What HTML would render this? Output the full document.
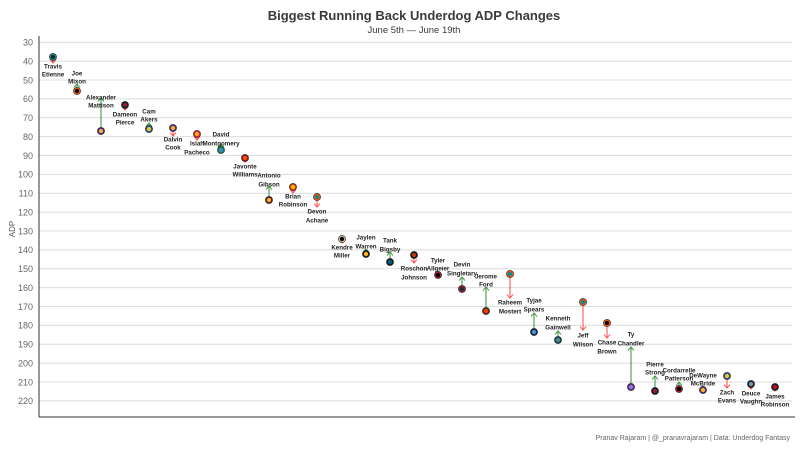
<!DOCTYPE html>
<html><head><meta charset="utf-8"><style>
html,body{margin:0;padding:0;background:#fff}
svg{display:block}
text{font-family:"Liberation Sans",sans-serif}
</style></head><body>
<svg id="c" width="800" height="450" viewBox="0 0 800 450" xmlns="http://www.w3.org/2000/svg">
<text x="414" y="20" text-anchor="middle" font-size="13" font-weight="bold" fill="#3a3a3a">Biggest Running Back Underdog ADP Changes</text>
<text x="414" y="33" text-anchor="middle" font-size="9.5" fill="#3a3a3a">June 5th — June 19th</text>
<text x="790" y="440" text-anchor="end" font-size="7" fill="#666">Pranav Rajaram | @_pranavrajaram | Data: Underdog Fantasy</text>
<text transform="translate(15,229) rotate(-90)" text-anchor="middle" font-size="8" fill="#555">ADP</text>
<g id="g"></g>
</svg>
<script>
var g=document.getElementById('g'),s='';
function Y(v){return 42.3+(v-30)*1.887;}
for(var v=30;v<=220;v+=10){var y=Y(v);
s+='<line x1="39" x2="792" y1="'+y+'" y2="'+y+'" stroke="#dcdcdc" stroke-width="1"/>';
s+='<text x="33" y="'+(y+3.3)+'" text-anchor="end" font-size="9" fill="#666">'+v+'</text>';}
s+='<line x1="39" x2="39" y1="36" y2="417" stroke="#333" stroke-width="1"/>';
s+='<line x1="39" x2="795" y1="417" y2="417" stroke="#333" stroke-width="1"/>';
var d=[
[53,57,63,"Travis","Etienne",66,74,"#0b2b2b","#1a8a8a"],
[77,91,84,"Joe","Mixon",73,81,"#000","#f05a1a"],
[101,131,98,"Alexander","Mattison",97,105,"#f0b020","#4f2683"],
[125,105,110,"Dameon","Pierce",114,122,"#a0162c","#03202f"],
[149,129,123,"Cam","Akers",111,119,"#f5c518","#1b4f9c"],
[173,128,136,"Dalvin","Cook",139,147,"#f0b020","#4f2683"],
[197,134,140,"Isiah","Pacheco",143,152,"#ffb612","#e31837"],
[221,150,144,"David","Montgomery",134,143,"#2a8fd0","#1e7a3a"],
[245,158,162,"Javonte","Williams",166,174,"#fb4f14","#a01010"],
[269,200,186,"Antonio","Gibson",175,184,"#ffb612","#5a1414"],
[293,187,193,"Brian","Robinson",196,204,"#ffb612","#c83803"],
[317,197,207,"Devon","Achane",211,220,"#008e97","#fc4c02"],
[342,239,243,"Kendre","Miller",247,255,"#000","#d3bc8d"],
[366,254,249,"Jaylen","Warren",237,246,"#ffb612","#101820"],
[390,262,252,"Tank","Bigsby",240,249,"#006778","#101820"],
[414,255,263,"Roschon","Johnson",268,277,"#c83803","#0b162a"],
[438,275,271,"Tyler","Allgeier",260,268,"#000","#a71930"],
[462,289,277,"Devin","Singletary",264,273,"#203040","#a71930"],
[486,311,287,"Jerome","Ford",276,284,"#ff3c00","#5a2a14"],
[510,274,298,"Raheem","Mostert",302,311,"#008e97","#fc4c02"],
[534,332,313,"Tyjae","Spears",300,309,"#4b92db","#0c2340"],
[558,340,331,"Kenneth","Gainwell",318,327,"#5a8a8a","#004c54"],
[583,302,330,"Jeff","Wilson",335,344,"#008e97","#fc4c02"],
[607,323,338,"Chase","Brown",342,351,"#000","#fb4f14"],
[631,387,347,"Ty","Chandler",334,343,"#9a7ad0","#4f2683"],
[655,391,376,"Pierre","Strong",364,372,"#a0162c","#0b1a3a"],
[679,389,382,"Cordarrelle","Patterson",370,378,"#000","#a71930"],
[703,390,386,"DeWayne","McBride",375,383,"#ffb612","#4f2683"],
[727,376,388,"Zach","Evans",392,400,"#ffc20e","#1b4fa0"],
[751,384,389,"Deuce","Vaughn",393,401,"#869397","#041e42"],
[775,387,391,"James","Robinson",396,404,"#d50a0a","#0b1a3a"]];
d.forEach(function(p){
var x=p[0],c=p[1],t=p[2],up=t<c,col=up?'#2e8b2e':'#ff3333',op=up?0.8:0.75;
s+='<line x1="'+x+'" x2="'+x+'" y1="'+c+'" y2="'+t+'" stroke="'+col+'" stroke-opacity="'+op+'" stroke-width="1.2"/>';
var k=up?3.5:-3.5;
s+='<polyline points="'+(x-3)+','+(t+k)+' '+x+','+t+' '+(x+3)+','+(t+k)+'" fill="none" stroke="'+col+'" stroke-opacity="'+op+'" stroke-width="1.1"/>';
s+='<circle cx="'+x+'" cy="'+c+'" r="2.8" fill="'+p[7]+'" stroke="'+p[8]+'" stroke-width="1.3"/>';
s+='<circle cx="'+x+'" cy="'+c+'" r="3.6" fill="none" stroke="#222" stroke-width="0.6"/>';
s+='<text x="'+x+'" y="'+(p[5]+2.5)+'" text-anchor="middle" font-size="6.2" font-weight="bold" fill="#222">'+p[3]+'</text>';
s+='<text x="'+x+'" y="'+(p[6]+2.5)+'" text-anchor="middle" font-size="6.2" font-weight="bold" fill="#222">'+p[4]+'</text>';
});
g.innerHTML=s;
</script>
</body></html>
